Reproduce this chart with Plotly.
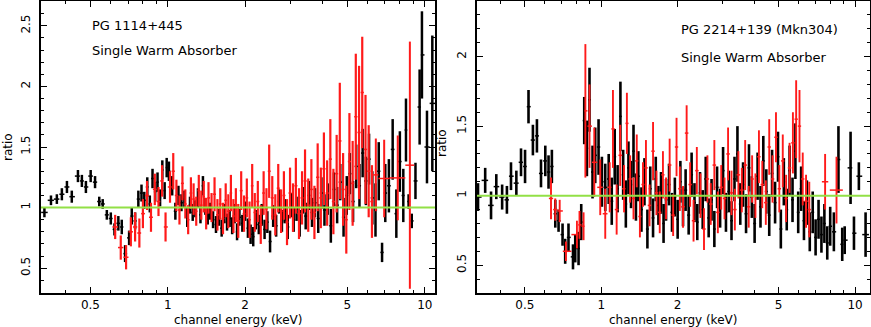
import numpy as np
import plotly.graph_objects as go
from plotly.subplots import make_subplots

# ---------------- PG 1114+445 (left panel) ----------------
# black data group: energy (keV), data/model ratio, 1-sigma error
pg1114_blk_e = [0.331, 0.351, 0.370, 0.387, 0.405, 0.423, 0.447, 0.463, 0.480, 0.501,
                0.521, 0.541, 0.558, 0.579, 0.600, 0.620, 0.642, 0.662, 0.682, 0.707,
                0.724, 0.746, 0.768, 0.790, 0.810, 0.832, 0.851, 0.872, 0.893, 0.912,
                0.933, 0.952, 0.972, 0.990,
                1.01, 1.04, 1.07, 1.10, 1.13, 1.16, 1.19, 1.22, 1.25, 1.28, 1.31, 1.34, 1.37, 1.40, 1.43, 1.46, 1.50,
                1.54, 1.58, 1.62, 1.66, 1.70, 1.74, 1.78, 1.82, 1.86, 1.90, 1.95, 2.00,
                2.05, 2.10, 2.15, 2.20, 2.26, 2.32, 2.38, 2.44, 2.50, 2.57, 2.64, 2.71, 2.78, 2.85, 2.93, 3.01,
                3.09, 3.17, 3.26, 3.35, 3.44, 3.54, 3.64, 3.74, 3.85, 3.96, 4.07,
                4.19, 4.31, 4.43, 4.56, 4.69, 4.83, 4.97, 5.11, 5.26, 5.41, 5.57, 5.73, 5.90, 6.07, 6.25, 6.43, 6.62, 6.82, 7.02,
                7.25, 7.50, 7.75, 8.00, 8.25, 8.45, 8.65, 8.90, 9.20, 9.55, 9.75, 10.2, 10.7]
pg1114_blk_r = [0.96, 1.06, 1.07, 1.11, 1.17, 1.09, 1.26, 1.22, 1.17, 1.26,
                1.21, 1.05, 1.03, 0.94, 0.91, 0.82, 0.87, 0.84, 0.62, 0.75,
                0.93, 0.89, 1.07, 1.12, 1.06, 1.17, 1.03, 1.24, 1.13, 1.21,
                1.08, 1.31, 1.14, 1.33,
                1.30, 1.18, 0.97, 1.10, 1.04, 1.07, 0.92, 1.02, 0.96, 0.99, 1.08, 0.94, 1.18, 1.01, 0.93, 0.97, 0.90,
                0.86, 0.92, 0.83, 0.95, 0.88, 0.91, 0.85, 0.95, 0.80, 0.92, 0.87, 0.97,
                0.83, 0.78, 0.76, 0.90, 0.86, 0.94, 0.82, 0.88, 0.72, 0.93, 0.85, 1.05, 0.89, 0.97, 0.84, 1.02,
                0.90, 0.99, 0.87, 1.06, 0.93, 1.10, 0.96, 1.04, 0.91, 1.12, 0.98,
                1.07, 0.85, 1.15, 1.02, 1.21, 0.92, 1.10, 1.28, 1.05, 1.34, 1.18, 1.45, 1.22, 1.40, 1.08, 0.98, 1.30, 0.63, 1.12,
                1.18, 1.48, 0.95, 1.38, 1.10, 1.64, 1.05, 0.89, 1.22, 1.83, 2.26, 1.50, 1.86]
pg1114_blk_err = [0.04, 0.04, 0.04, 0.05, 0.05, 0.05, 0.05, 0.05, 0.05, 0.05,
                  0.05, 0.04, 0.04, 0.04, 0.05, 0.05, 0.06, 0.06, 0.07, 0.06,
                  0.07, 0.07, 0.07, 0.07, 0.07, 0.08, 0.07, 0.08, 0.08, 0.08,
                  0.07, 0.08, 0.07, 0.08,
                  0.08, 0.08, 0.07, 0.08, 0.07, 0.07, 0.08, 0.07, 0.07, 0.07, 0.08, 0.07, 0.08, 0.07, 0.07, 0.07, 0.07,
                  0.07, 0.07, 0.07, 0.08, 0.07, 0.07, 0.07, 0.08, 0.07, 0.07, 0.07, 0.08,
                  0.08, 0.08, 0.08, 0.08, 0.08, 0.09, 0.08, 0.09, 0.09, 0.09, 0.09, 0.10, 0.09, 0.10, 0.10, 0.10,
                  0.10, 0.10, 0.11, 0.11, 0.11, 0.12, 0.12, 0.12, 0.12, 0.13, 0.13,
                  0.13, 0.14, 0.14, 0.15, 0.15, 0.16, 0.16, 0.17, 0.17, 0.18, 0.18, 0.20, 0.20, 0.21, 0.22, 0.22, 0.24, 0.08, 0.24,
                  0.22, 0.25, 0.20, 0.25, 0.22, 0.26, 0.06, 0.06, 0.15, 0.31, 0.36, 0.30, 0.56]

# red data group
pg1114_red_e = [0.624, 0.656, 0.688, 0.718, 0.746, 0.775, 0.80, 0.83, 0.86, 0.89, 0.92, 0.95, 0.98,
                1.02, 1.05, 1.08, 1.11, 1.14, 1.17, 1.20, 1.23, 1.26, 1.29,
                1.32, 1.35, 1.38, 1.41, 1.44, 1.48, 1.52, 1.56, 1.60, 1.64,
                1.68, 1.72, 1.76, 1.80, 1.84, 1.88, 1.93, 1.98, 2.03, 2.08,
                2.13, 2.18, 2.24, 2.30, 2.36, 2.42, 2.48, 2.55, 2.62, 2.69,
                2.76, 2.83, 2.91, 2.99, 3.07, 3.15, 3.24, 3.33, 3.42, 3.52,
                3.62, 3.72, 3.83, 3.94, 4.05, 4.17, 4.29, 4.41, 4.54, 4.67,
                4.81, 4.95, 5.09, 5.24, 5.39, 5.55, 5.71, 5.88, 6.05, 6.23]
pg1114_red_r = [0.84, 0.67, 0.59, 0.80, 0.84, 0.79, 0.95, 1.10, 0.92, 1.15, 1.05, 1.22, 0.84,
                1.17, 1.30, 1.10, 0.98, 1.20, 1.03, 0.90, 1.12, 1.07, 0.97,
                1.14, 1.02, 1.09, 0.95, 1.08, 1.00, 1.11, 0.94, 1.03, 0.91,
                1.06, 0.97, 1.12, 0.93, 1.02, 0.89, 1.14, 0.95, 1.08, 0.90,
                1.18, 0.96, 1.05, 0.86, 1.12, 0.99, 1.30, 1.08, 0.94, 1.16,
                0.97, 1.10, 0.88, 1.12, 1.00, 1.18, 0.95, 1.08, 1.22, 1.02,
                1.15, 0.96, 1.25, 1.08, 1.32, 1.12, 1.40, 1.05, 1.28, 1.55,
                1.15, 0.90, 1.38, 1.20, 1.75, 1.62, 1.95, 1.48, 1.30, 1.05]
pg1114_red_err = [0.10, 0.10, 0.10, 0.12, 0.12, 0.12, 0.12, 0.12, 0.12, 0.13, 0.12, 0.13, 0.12,
                  0.13, 0.15, 0.13, 0.12, 0.14, 0.12, 0.12, 0.13, 0.13, 0.12,
                  0.13, 0.12, 0.13, 0.13, 0.13, 0.12, 0.14, 0.13, 0.13, 0.13,
                  0.14, 0.14, 0.15, 0.14, 0.14, 0.14, 0.16, 0.15, 0.16, 0.15,
                  0.18, 0.16, 0.17, 0.16, 0.18, 0.17, 0.22, 0.18, 0.17, 0.20,
                  0.18, 0.20, 0.19, 0.21, 0.20, 0.23, 0.21, 0.22, 0.26, 0.22,
                  0.25, 0.22, 0.28, 0.25, 0.30, 0.27, 0.33, 0.27, 0.32, 0.48,
                  0.30, 0.28, 0.40, 0.35, 0.52, 0.55, 0.46, 0.45, 0.38, 0.30]
# wide high-energy red bins (centre, half width, ratio, error)
pg1114_redw_e = [6.45, 6.95, 7.85, 8.75]
pg1114_redw_hw = [0.15, 0.35, 0.55, 0.35]
pg1114_redw_r = [1.27, 1.24, 1.245, 1.35]
pg1114_redw_err = [0.30, 0.32, 0.35, 1.02]

# ---------------- PG 2214+139 (right panel) ----------------
pg2214_blk_e = [0.327, 0.349, 0.368, 0.386, 0.407, 0.425, 0.441, 0.463, 0.483, 0.501,
                0.517, 0.538, 0.558, 0.579, 0.602, 0.620, 0.639, 0.659, 0.679, 0.704,
                0.721, 0.743, 0.774, 0.790, 0.814, 0.834, 0.857, 0.878, 0.899, 0.924,
                0.947, 0.976, 1.006, 1.037,
                1.07, 1.10, 1.13, 1.16, 1.19, 1.22, 1.25, 1.28, 1.31, 1.34,
                1.37, 1.40, 1.44, 1.48, 1.52, 1.56, 1.60, 1.64, 1.68, 1.72,
                1.76, 1.80, 1.85, 1.90, 1.95, 2.00, 2.05, 2.10, 2.15, 2.21,
                2.27, 2.33, 2.39, 2.45, 2.51, 2.58, 2.65, 2.72, 2.79, 2.86,
                2.94, 3.02, 3.10, 3.18, 3.26, 3.35, 3.44, 3.53, 3.62, 3.72,
                3.82, 3.92, 4.02, 4.13, 4.24, 4.35, 4.47, 4.59, 4.71, 4.84,
                4.97, 5.10, 5.24, 5.38, 5.52, 5.67, 5.82, 5.97, 6.13, 6.29,
                6.46, 6.63, 6.81, 6.99, 7.18, 7.37, 7.57, 7.77, 7.98,
                8.25, 8.60, 8.90, 9.10, 9.60, 9.90, 10.35, 11.0]
pg2214_blk_r = [0.99, 1.11, 0.93, 1.065, 0.99, 0.97, 1.14, 1.09, 1.24, 1.21,
                1.64, 1.40, 1.43, 1.16, 1.25, 1.17, 1.21, 0.87, 0.82, 0.72,
                0.60, 0.70, 0.56, 0.62, 0.62, 0.81, 1.54, 1.34, 1.69, 1.17,
                1.29, 1.35, 1.10, 1.06,
                1.12, 0.96, 1.28, 1.05, 1.57, 1.15, 0.94, 1.20, 1.08, 1.32,
                0.99, 1.14, 0.90, 1.10, 0.76, 1.05, 0.84, 1.12, 0.93, 1.02,
                0.80, 0.97, 1.08, 0.88, 0.99, 0.83, 1.10, 0.92, 1.04, 0.86,
                1.15, 0.95, 0.81, 1.02, 0.90, 1.12, 0.84, 0.97, 0.76, 1.06,
                0.91, 1.18, 0.88, 1.03, 0.82, 1.12, 1.30, 0.94, 1.08, 0.87,
                1.20, 0.99, 0.80, 1.14, 0.92, 1.25, 1.03, 0.86, 1.16, 0.95,
                1.28, 0.76, 1.10, 0.90, 1.18, 0.97, 1.32, 0.88, 1.05, 0.82,
                0.95, 0.74, 0.88, 0.70, 0.83, 0.72, 0.80, 0.66, 0.78,
                0.74, 1.26, 0.65, 0.68, 1.20, 0.73, 1.14, 0.72]
pg2214_blk_err = [0.10, 0.09, 0.10, 0.09, 0.09, 0.10, 0.10, 0.09, 0.10, 0.12,
                  0.12, 0.11, 0.12, 0.10, 0.11, 0.12, 0.12, 0.10, 0.08, 0.08,
                  0.09, 0.10, 0.09, 0.10, 0.12, 0.13, 0.17, 0.20, 0.23, 0.19,
                  0.20, 0.20, 0.18, 0.17,
                  0.18, 0.17, 0.20, 0.17, 0.25, 0.18, 0.17, 0.19, 0.17, 0.19,
                  0.17, 0.18, 0.16, 0.17, 0.14, 0.16, 0.14, 0.16, 0.14, 0.15,
                  0.14, 0.15, 0.15, 0.14, 0.14, 0.14, 0.15, 0.14, 0.15, 0.14,
                  0.16, 0.14, 0.13, 0.15, 0.14, 0.16, 0.14, 0.15, 0.13, 0.15,
                  0.14, 0.17, 0.14, 0.15, 0.14, 0.16, 0.20, 0.15, 0.16, 0.14,
                  0.17, 0.15, 0.14, 0.17, 0.15, 0.18, 0.16, 0.15, 0.17, 0.15,
                  0.18, 0.14, 0.17, 0.15, 0.18, 0.16, 0.20, 0.15, 0.16, 0.14,
                  0.16, 0.14, 0.15, 0.13, 0.14, 0.13, 0.14, 0.12, 0.14,
                  0.14, 0.24, 0.12, 0.10, 0.26, 0.12, 0.10, 0.16]

pg2214_red_e = [0.634, 0.659, 0.686, 0.726, 0.802, 0.821, 0.852, 0.866, 0.899, 0.939,
                0.991, 1.037, 1.08, 1.112, 1.15, 1.188, 1.23, 1.262,
                1.30, 1.34, 1.38, 1.42, 1.46, 1.50, 1.55, 1.60, 1.65, 1.70,
                1.75, 1.80, 1.86, 1.92, 1.98, 2.04, 2.10, 2.17, 2.24, 2.31,
                2.38, 2.46, 2.54, 2.62, 2.70, 2.79, 2.88, 2.97, 3.06, 3.16,
                3.26, 3.36, 3.47, 3.58, 3.69, 3.81, 3.93, 4.05, 4.18, 4.31,
                4.45, 4.59, 4.73, 4.88, 5.03, 5.19, 5.35, 5.52, 5.69, 5.86,
                6.04, 6.22, 6.41, 6.60]
pg2214_red_r = [0.98, 0.90, 0.89, 0.60, 0.72, 0.79, 0.78, 1.61, 1.50, 1.24,
                1.06, 0.87, 1.06, 1.48, 0.90, 1.29, 1.05, 1.52,
                1.12, 0.98, 1.25, 0.85, 1.08, 1.20, 0.93, 1.32, 1.02, 0.88,
                1.15, 0.98, 1.22, 0.86, 1.35, 1.05, 0.92, 1.45, 1.08, 0.82,
                1.18, 1.00, 0.76, 1.12, 0.94, 1.22, 0.88, 1.06, 0.98, 1.30,
                1.02, 0.90, 1.15, 1.04, 1.22, 0.92, 1.12, 1.00, 1.28, 1.08,
                0.95, 1.35, 1.12, 1.42, 1.05, 1.25, 0.98, 1.20, 1.38, 1.55,
                1.50, 1.12, 0.96, 0.90]
pg2214_red_err = [0.15, 0.08, 0.08, 0.07, 0.10, 0.10, 0.10, 0.48, 0.30, 0.25,
                  0.20, 0.18, 0.18, 0.28, 0.18, 0.22, 0.17, 0.22,
                  0.17, 0.15, 0.19, 0.15, 0.16, 0.20, 0.15, 0.21, 0.16, 0.15,
                  0.17, 0.15, 0.19, 0.15, 0.21, 0.16, 0.15, 0.20, 0.16, 0.15,
                  0.17, 0.16, 0.15, 0.17, 0.15, 0.18, 0.15, 0.16, 0.15, 0.19,
                  0.16, 0.15, 0.17, 0.16, 0.18, 0.15, 0.17, 0.16, 0.19, 0.17,
                  0.16, 0.20, 0.17, 0.18, 0.17, 0.19, 0.17, 0.18, 0.22, 0.28,
                  0.26, 0.19, 0.19, 0.20]
pg2214_redw_e = [7.62, 8.45]
pg2214_redw_hw = [0.22, 0.50]
pg2214_redw_r = [1.10, 1.04]
pg2214_redw_err = [0.20, 0.24]

BLACK = "#000000"
RED = "#ff1a1a"
GREEN = "#92e046"
FONT = "DejaVu Sans"


def bin_edges(e):
    """channel bins reach halfway to the neighbouring channels"""
    e = np.asarray(e, dtype=float)
    mids = np.sqrt(e[1:] * e[:-1])
    lo = np.concatenate([[e[0] ** 2 / mids[0]], mids])
    hi = np.concatenate([mids, [e[-1] ** 2 / mids[-1]]])
    return e - lo, hi - e


def spectrum(e, r, err, color, thick, minus=None, plus=None):
    assert len(e) == len(r) == len(err)
    if minus is None:
        minus, plus = bin_edges(e)
    return go.Scatter(
        x=e, y=r, mode="markers", marker=dict(size=2, color=color, opacity=0),
        error_x=dict(type="data", symmetric=False, array=plus, arrayminus=minus,
                     color=color, thickness=1.5, width=0),
        error_y=dict(type="data", array=err, color=color, thickness=thick, width=0),
        showlegend=False, hoverinfo="skip")


fig = make_subplots(rows=1, cols=2)

fig.add_trace(spectrum(pg1114_blk_e, pg1114_blk_r, pg1114_blk_err, BLACK, 2.5), row=1, col=1)
fig.add_trace(spectrum(pg1114_red_e, pg1114_red_r, pg1114_red_err, RED, 2.2), row=1, col=1)
fig.add_trace(spectrum(pg1114_redw_e, pg1114_redw_r, pg1114_redw_err, RED, 2.0,
                       pg1114_redw_hw, pg1114_redw_hw), row=1, col=1)

fig.add_trace(spectrum(pg2214_blk_e, pg2214_blk_r, pg2214_blk_err, BLACK, 2.6), row=1, col=2)
fig.add_trace(spectrum(pg2214_red_e, pg2214_red_r, pg2214_red_err, RED, 1.9), row=1, col=2)
fig.add_trace(spectrum(pg2214_redw_e, pg2214_redw_r, pg2214_redw_err, RED, 1.9,
                       pg2214_redw_hw, pg2214_redw_hw), row=1, col=2)

# model line at ratio = 1
for c in (1, 2):
    fig.add_hline(y=1, line=dict(color=GREEN, width=2), row=1, col=c)

W, H = 871, 327
axis_common = dict(showline=True, linecolor="black", linewidth=1.5, mirror="allticks",
                   ticks="inside", ticklen=6, tickcolor="black", tickwidth=1.2,
                   showgrid=False, zeroline=False,
                   tickfont=dict(family=FONT, size=12, color="black"))

x_minor = [0.3, 0.4, 0.6, 0.7, 0.8, 0.9, 3, 4, 6, 7, 8, 9]
fig.update_xaxes(type="log", tickvals=[0.5, 1, 2, 5, 10], ticktext=["0.5", "1", "2", "5", "10"],
                 minor=dict(tickvals=x_minor, ticks="inside", ticklen=3, tickcolor="black", tickwidth=1.2),
                 **axis_common)
fig.update_yaxes(tickvals=[0.5, 1, 1.5, 2, 2.5], ticktext=["0.5", "1", "1.5", "2", "2.5"],
                 tickangle=-90, ticklabelstandoff=4,
                 minor=dict(dtick=0.1, ticks="inside", ticklen=3, tickcolor="black", tickwidth=1.2),
                 **axis_common)

fig.update_layout(
    width=W, height=H,
    margin=dict(l=0, r=0, t=1, b=34),
    paper_bgcolor="white", plot_bgcolor="white",
    xaxis=dict(domain=[41 / W, 435 / W], range=[np.log10(0.321), np.log10(10.96)]),
    xaxis2=dict(domain=[477 / W, 870 / W], range=[np.log10(0.324), np.log10(11.45)]),
    yaxis=dict(range=[0.295, 2.705]),
    yaxis2=dict(range=[0.3, 2.4]),
)


def ypaper(py):
    return (293 - py) / 292


labels = [
    (90, 25, "PG 1114+445", "left", 0),
    (90, 50, "Single Warm Absorber", "left", 0),
    (679, 30, "PG 2214+139 (Mkn304)", "left", 0),
    (679, 57, "Single Warm Absorber", "left", 0),
    (238, 320, "channel energy (keV)", "center", 0),
    (673, 320, "channel energy (keV)", "center", 0),
    (8, 147, "ratio", "center", -90),
    (442, 143, "ratio", "center", -90),
]
for px, py, txt, anchor, ang in labels:
    fig.add_annotation(x=px / W, y=ypaper(py), xref="paper", yref="paper", text=txt,
                       showarrow=False, xanchor=anchor, yanchor="middle", textangle=ang,
                       font=dict(family=FONT, size=13 if py < 100 else 12, color="black"))

# the page itself adds no margin around the figure
fig.write_html("out.html", config={"displayModeBar": False},
               post_script="document.body.style.margin='0px';")
